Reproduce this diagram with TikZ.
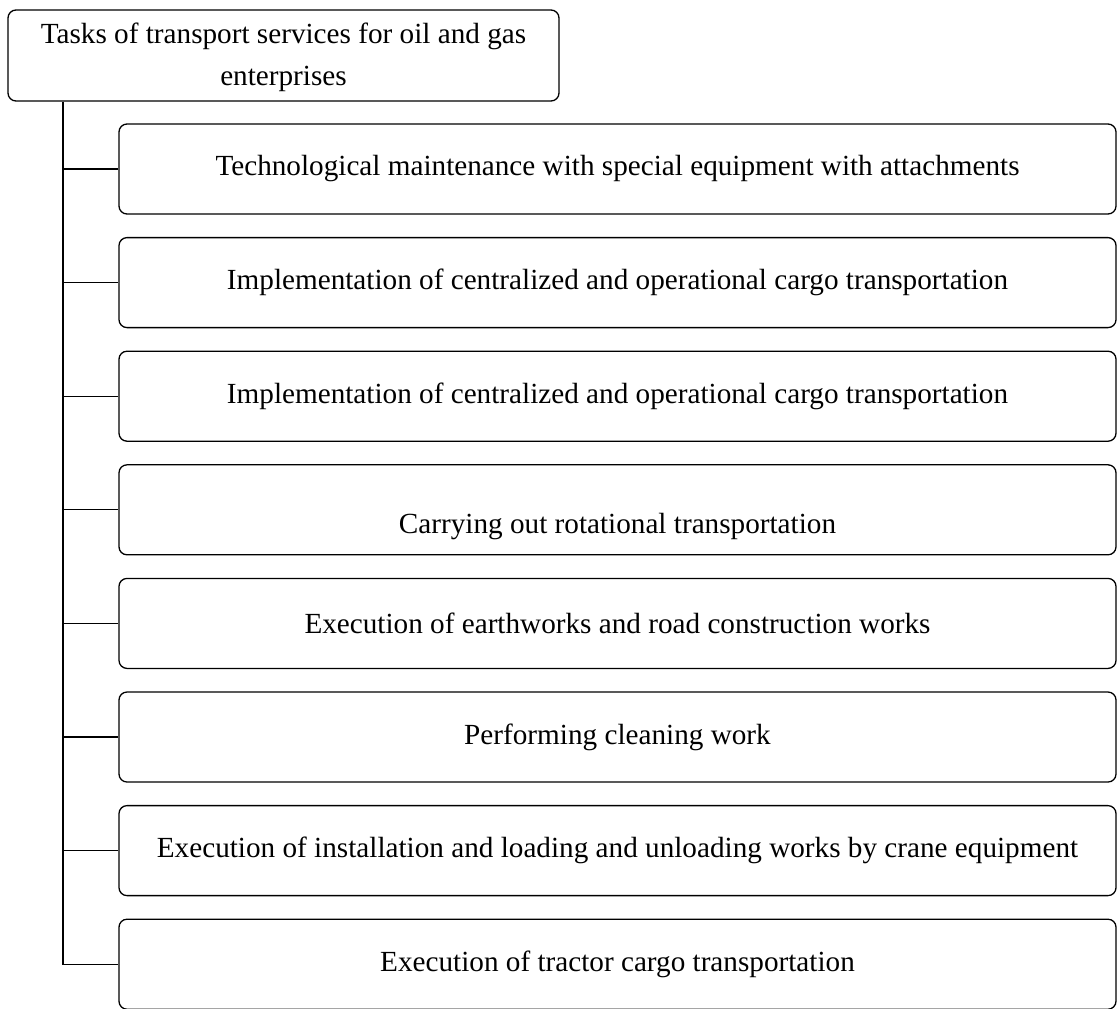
\documentclass[tikz,border=0pt]{standalone}
\usepackage{fontspec}
\setmainfont{Liberation Serif}
\begin{document}
\begin{tikzpicture}[x=0.5pt,y=-0.5pt,
  every node/.style={font=\fontsize{14.6}{21}\selectfont},
  topbox/.style={draw, rounded corners=4pt, line width=0.65pt, minimum width=275.5pt, minimum height=45.5pt, align=center, inner sep=0pt},
  taskbox/.style={draw, rounded corners=4pt, line width=0.65pt, minimum width=498.5pt, minimum height=45pt, inner sep=0pt},
  link/.style={line width=0.65pt}]
\useasboundingbox (0,0) rectangle (1118,1008);
\clip (0,0) rectangle (1118,1008);
\node[topbox, text depth=1.5pt] (top) at (283.5,55.5) {Tasks of transport services for oil and gas\\enterprises};
\node[taskbox] (b1) at (617.5,169) {Technological maintenance with special equipment with attachments};
\node[taskbox] (b2) at (617.5,282.6) {Implementation of centralized and operational cargo transportation};
\node[taskbox] (b3) at (617.5,396.2) {Implementation of centralized and operational cargo transportation};
\node[taskbox] (b4) at (617.5,509.8) {};
\node (b4text) at ([yshift=-8.5pt]b4.center) {Carrying out rotational transportation};
\node[taskbox] (b5) at (617.5,623.4) {Execution of earthworks and road construction works};
\node[taskbox] (b6) at (617.5,737) {Performing cleaning work};
\node[taskbox] (b7) at (617.5,850.6) {Execution of installation and loading and unloading works by crane equipment};
\node[taskbox] (b8) at (617.5,964.2) {Execution of tractor cargo transportation};
\coordinate (t) at (63,0);
\draw[link] (top.south -| t) -- (b8.west -| t) -- (b8.west);
\foreach \i in {1,...,7} {\draw[link] (b\i.west -| t) -- (b\i.west);}
\end{tikzpicture}
\end{document}
